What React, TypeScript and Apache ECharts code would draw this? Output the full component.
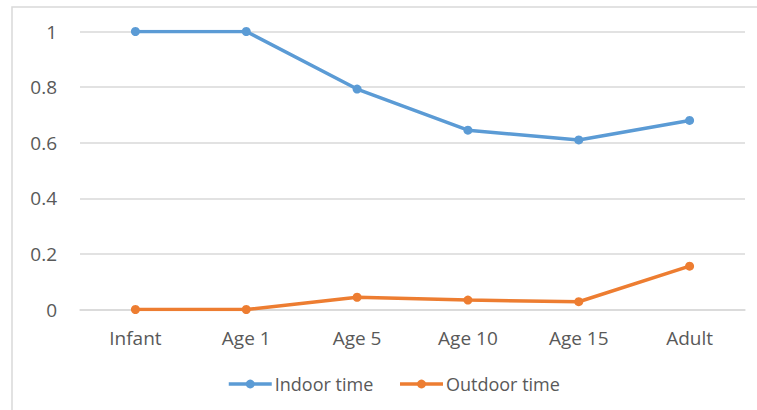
import React, { useEffect, useRef } from "react";
import * as echarts from "echarts";

const categories = ["Infant", "Age 1", "Age 5", "Age 10", "Age 15", "Adult"];
const indoorTime = [1, 1, 0.793, 0.645, 0.61, 0.68];
const outdoorTime = [0, 0, 0.044, 0.034, 0.028, 0.156];
const seriesNames = ["Indoor time", "Outdoor time"];

export default function App() {
  const ref = useRef<HTMLDivElement>(null);
  useEffect(() => {
    if (!ref.current) return;
    const chart = echarts.init(ref.current, null, { renderer: "svg" });
    const font = "'Open Sans', 'Liberation Sans', sans-serif";
    chart.setOption({
      animation: false,
      backgroundColor: "#ffffff",
      textStyle: { fontFamily: font },
      graphic: [
        {
          type: "rect",
          shape: { x: 12, y: 7, width: 760, height: 420 },
          style: { fill: "none", stroke: "#d9d9d9", lineWidth: 1.5 },
          silent: true,
        },
      ],
      grid: { left: 80, right: 12, top: 31.5, bottom: 100.5 },
      legend: {
        data: seriesNames,
        top: 370,
        left: 222,
        itemWidth: 43,
        itemHeight: 11,
        itemGap: 25,
        lineStyle: { width: 3.5 },
        textStyle: { color: "#595959", fontSize: 18, fontFamily: font, padding: [0, 0, 0, -2] },
      },
      xAxis: {
        type: "category",
        data: categories,
        boundaryGap: true,
        axisLine: { show: true, lineStyle: { color: "#d9d9d9", width: 1.5 } },
        axisTick: { show: false },
        axisLabel: { color: "#595959", fontSize: 19, margin: 19, fontFamily: font },
      },
      yAxis: {
        type: "value",
        min: 0,
        max: 1,
        interval: 0.2,
        axisLine: { show: false },
        axisTick: { show: false },
        splitLine: { lineStyle: { color: "#d9d9d9", width: 1.5 } },
        axisLabel: { color: "#595959", fontSize: 19, margin: 23, fontFamily: font },
      },
      series: [
        {
          name: seriesNames[0],
          type: "line",
          data: indoorTime,
          symbol: "circle",
          symbolSize: 9,
          itemStyle: { color: "#5b9bd5" },
          lineStyle: { color: "#5b9bd5", width: 3.5 },
        },
        {
          name: seriesNames[1],
          type: "line",
          data: outdoorTime,
          symbol: "circle",
          symbolSize: 9,
          itemStyle: { color: "#ed7d31" },
          lineStyle: { color: "#ed7d31", width: 3.5 },
        },
      ],
    });
    return () => chart.dispose();
  }, []);
  return (
    <div
      ref={ref}
      style={{ position: "fixed", left: 0, top: 0, width: 757, height: 410 }}
    />
  );
}
